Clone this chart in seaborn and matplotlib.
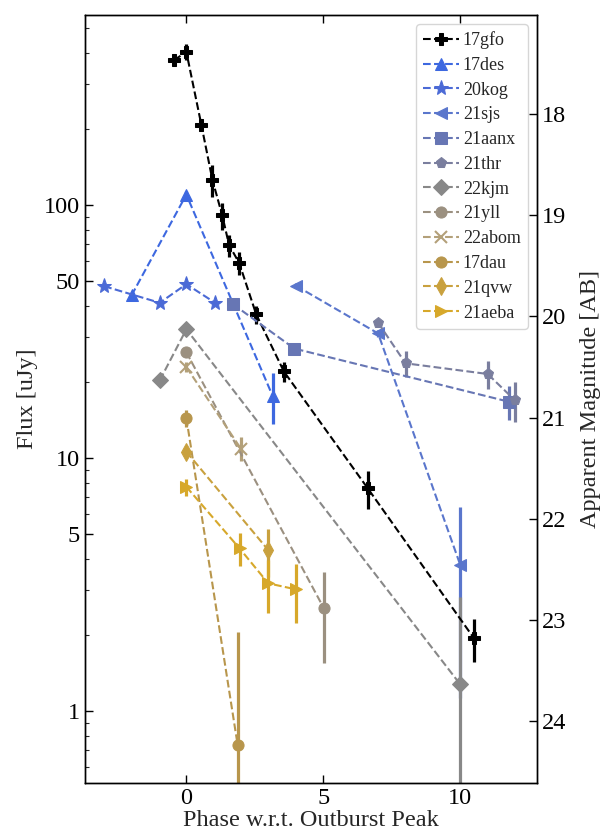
import numpy as np
import pandas as pd
import matplotlib
matplotlib.use("Agg")
import matplotlib.pyplot as plt
import matplotlib.ticker as mticker
import seaborn as sns

# ---------------- data ----------------
names = ["17gfo", "17des", "20kog", "21sjs", "21aanx", "21thr",
         "22kjm", "21yll", "22abom", "17dau", "21qvw", "21aeba"]

phase_17gfo = [-0.45, 0.0, 0.55, 0.95, 1.31, 1.56, 1.93, 2.55, 3.56, 6.62, 10.5]
flux_17gfo = [374, 403, 207, 126, 91, 69.5, 59, 37, 22, 7.6, 1.94]
err_17gfo = [15, 30, 10, 18, 11, 7, 6, 3, 2, 1.3, 0.38]

phase_17des = [-2.0, 0.0, 3.15]
flux_17des = [44, 110, 17.6]
err_17des = [1.5, 4, 4.0]

phase_20kog = [-3.0, -0.97, 0.0, 1.05]
flux_20kog = [47.8, 41.1, 48.7, 41.1]
err_20kog = [1, 1, 1, 1]

phase_21sjs = [4.0, 7.0, 10.0]
flux_21sjs = [48, 31.1, 3.78]
err_21sjs = [1, 1, 2.65]

phase_21aanx = [1.7, 3.94, 11.78]
flux_21aanx = [40.6, 27.1, 16.7]
err_21aanx = [1, 1, 2.5]

phase_21thr = [7.0, 8.0, 11.0, 12.0]
flux_21thr = [34.3, 23.7, 21.5, 16.9]
err_21thr = [1, 2.7, 2.8, 3.0]

phase_22kjm = [-0.97, 0.0, 10.0]
flux_22kjm = [20.3, 32.3, 1.275]
err_22kjm = [0.8, 1, 1.56]

phase_21yll = [0.0, 5.02]
flux_21yll = [26.2, 2.55]
err_21yll = [1, 1.0]

phase_22abom = [0.0, 1.99]
flux_22abom = [22.9, 10.9]
err_22abom = [1, 1.2]

phase_17dau = [0.0, 1.87]
flux_17dau = [14.4, 0.738]
err_17dau = [1.1, 1.32]

phase_21qvw = [0.0, 2.99]
flux_21qvw = [10.6, 4.33]
err_21qvw = [0.6, 0.94]

phase_21aeba = [0.0, 1.94, 2.99, 3.99]
flux_21aeba = [7.7, 4.4, 3.2, 3.03]
err_21aeba = [0.6, 0.67, 0.75, 0.8]

y_ticks = [1, 5, 10, 50, 100]
x_ticks = [0, 5, 10]
mag_ticks = [18, 19, 20, 21, 22, 23, 24]

# ---------------- styles ----------------
markers = ["P", "^", "*", "<", "s", "p", "D", "o", "x", "o", "d", ">"]
colors = ["#000000", "#3d68e0", "#4b6ad6", "#5a76cc", "#6776b4", "#7a7e9e",
          "#888888", "#9b9080", "#b3a079", "#b8964c", "#c9a13e", "#d7a82a"]
msizes = [9, 9, 11, 8, 8, 8, 8, 8, 9, 8, 9, 8]

series = {
    "17gfo": (phase_17gfo, flux_17gfo, err_17gfo),
    "17des": (phase_17des, flux_17des, err_17des),
    "20kog": (phase_20kog, flux_20kog, err_20kog),
    "21sjs": (phase_21sjs, flux_21sjs, err_21sjs),
    "21aanx": (phase_21aanx, flux_21aanx, err_21aanx),
    "21thr": (phase_21thr, flux_21thr, err_21thr),
    "22kjm": (phase_22kjm, flux_22kjm, err_22kjm),
    "21yll": (phase_21yll, flux_21yll, err_21yll),
    "22abom": (phase_22abom, flux_22abom, err_22abom),
    "17dau": (phase_17dau, flux_17dau, err_17dau),
    "21qvw": (phase_21qvw, flux_21qvw, err_21qvw),
    "21aeba": (phase_21aeba, flux_21aeba, err_21aeba),
}

sns.set_style("ticks")
plt.rcParams["font.family"] = ["Liberation Serif", "DejaVu Serif"]

fig = plt.figure(figsize=(6.03, 8.33), dpi=100)
ax = fig.add_axes([85 / 603, 1 - 783 / 833, (537 - 85) / 603, (783 - 15) / 833])

ax.set_yscale("log")
ylim = (0.52, 564)
xlim = (-3.7, 12.8)

for i, name in enumerate(names):
    ph, fl, er = series[name]
    df = pd.DataFrame({"phase": ph, "flux": fl, "err": er})
    ax.errorbar(df["phase"], df["flux"], yerr=df["err"], fmt="none",
                ecolor=colors[i], elinewidth=2.3, capsize=0, zorder=2)
    kw = dict(markersize=msizes[i], color=colors[i], markeredgecolor=colors[i])
    if markers[i] == "x":
        kw["markeredgewidth"] = 1.5
    sns.lineplot(data=df, x="phase", y="flux", sort=False, estimator=None,
                 marker=markers[i], linestyle="--", linewidth=1.5,
                 label=name, ax=ax, zorder=3, **kw)

ax.set_xlim(*xlim)
ax.set_ylim(*ylim)
ax.set_xticks(x_ticks)
ax.set_yticks(y_ticks)
ax.yaxis.set_major_formatter(mticker.FuncFormatter(lambda v, p: f"{v:g}"))
ax.yaxis.set_minor_locator(mticker.LogLocator(base=10, subs=np.arange(2, 10)))
ax.yaxis.set_minor_formatter(mticker.NullFormatter())
ax.tick_params(axis="both", which="major", direction="in", length=6,
               width=1, labelsize=17.5, top=True, right=False, colors="black")
ax.tick_params(axis="y", which="minor", direction="in", length=3, width=0.8,
               right=False)
ax.set_xlabel("Phase w.r.t. Outburst Peak", fontsize=17.5, labelpad=1)
ax.set_ylabel("Flux [uJy]", fontsize=17.5, labelpad=4)

ax2 = ax.twinx()
m = lambda f: 23.9 - 2.5 * np.log10(f)
ax2.set_ylim(m(ylim[0]), m(ylim[1]))
ax2.set_yticks(mag_ticks)
ax2.tick_params(axis="y", direction="in", length=6, width=1, labelsize=17.5,
                colors="black")
ax2.set_ylabel("Apparent Magnitude [AB]", fontsize=17.5, labelpad=10)

for a in (ax, ax2):
    for s in a.spines.values():
        s.set_color("black")
        s.set_linewidth(1.0)

ax.legend(loc="upper right", fontsize=13, labelspacing=0.43,
          handlelength=2.0, handletextpad=0.2, borderpad=0.4, frameon=True)

fig.savefig("out.png", dpi=100)
